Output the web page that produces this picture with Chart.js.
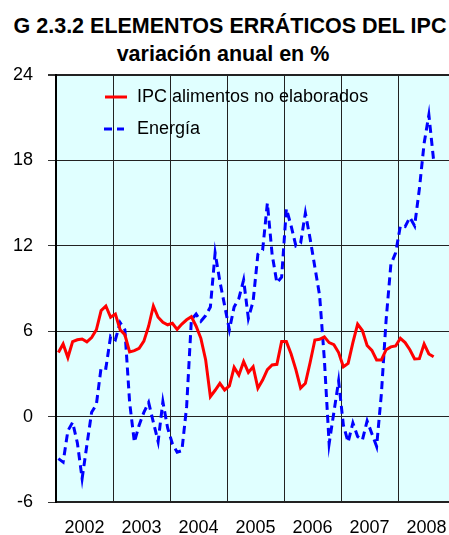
<!DOCTYPE html>
<html>
<head>
<meta charset="utf-8">
<script src="https://cdn.jsdelivr.net/npm/chart.js@4/dist/chart.umd.min.js"></script>
<style>
  body { margin: 0; width: 449px; height: 535px; overflow: hidden; background: #fff; position: relative; }
  .title { position: absolute; left: 0; font: bold 21.5px "Liberation Sans", Arial, sans-serif; line-height: 22px; text-align: center; color: #000; white-space: nowrap; }
  #chart { position: absolute; left: 0; top: 0; }
</style>
</head>
<body>
<div class="title" style="top:15px;width:460px">G 2.3.2 ELEMENTOS ERRÁTICOS DEL IPC</div>
<div class="title" style="top:43px;width:446px">variación anual en %</div>
<canvas id="chart" width="470" height="535"></canvas>
<script>
// year labels on the x axis, one per 12 monthly points (Jan 2002 - Aug 2008)
const years = ['2002', '2003', '2004', '2005', '2006', '2007', '2008'];
const yTicks = [-6, 0, 6, 12, 18, 24];

// IPC alimentos no elaborados, % annual change
const food = [4.5, 5.1, 4.15, 5.27, 5.4, 5.45, 5.25, 5.55, 6.1, 7.45, 7.77, 6.98,
  7.2, 6.1, 5.75, 4.55, 4.63, 4.8, 5.3, 6.35, 7.77, 6.98, 6.63, 6.45,
  6.56, 6.13, 6.5, 6.8, 7.02, 6.35, 5.5, 4.0, 1.4, 1.85, 2.34, 1.87,
  2.15, 3.46, 2.92, 3.86, 3.1, 3.5, 2.0, 2.57, 3.3, 3.63, 3.67, 5.27,
  5.27, 4.4, 3.3, 2.0, 2.34, 3.8, 5.38, 5.43, 5.6, 5.2, 5.05, 4.5,
  3.5, 3.74, 5.2, 6.5, 6.05, 5.0, 4.65, 3.98, 3.98, 4.7, 4.9, 4.96,
  5.5, 5.2, 4.7, 4.05, 4.07, 5.1, 4.4, 4.2];

// Energía, % annual change
const energy = [-2.95, -3.2, -1.0, -0.4, -1.85, -4.35, -2.0, 0.3, 0.85, 3.45, 3.4, 5.65,
  5.4, 6.6, 6.1, 1.0, -1.8, -0.6, 0.3, 1.0, -0.4, -1.76, 1.05, -0.8,
  -1.9, -2.5, -2.4, 0.7, 6.8, 7.2, 6.7, 7.1, 7.7, 11.5, 9.5, 7.8,
  6.1, 7.7, 8.3, 9.6, 6.9, 8.1, 11.4, 11.7, 15.0, 11.4, 9.4, 9.8,
  14.6, 13.4, 12.0, 12.2, 14.3, 12.5, 10.5, 8.5, 4.0, -1.9, 0.3, 2.5,
  -0.6, -1.8, -0.45, -1.4, -1.65, -0.3, -1.2, -2.1, 1.6, 6.8, 10.7, 11.5,
  13.4, 13.35, 14.0, 13.4, 16.0, 19.2, 21.2, 18.0];

const FONT = '"Liberation Sans", Arial, sans-serif';

// each monthly point sits in the middle of its month
const toPoints = (arr) => arr.map((v, i) => ({ x: i + 0.5, y: v }));

const plotBackground = {
  id: 'plotBackground',
  beforeDraw(chart) {
    const { ctx, chartArea: a } = chart;
    ctx.save();
    ctx.fillStyle = '#e0ffff';
    ctx.fillRect(a.left, a.top, a.right - a.left, a.bottom - a.top);
    ctx.restore();
  }
};

// legend drawn inside the plot, top left
const innerLegend = {
  id: 'innerLegend',
  afterDraw(chart) {
    const ctx = chart.ctx;
    const items = [
      { text: 'IPC alimentos no elaborados', color: '#ff0000', dash: [], y: 97, x0: 105, x1: 127 },
      { text: 'Energía', color: '#0000ff', dash: [8, 5], y: 129, x0: 104, x1: 124 }
    ];
    ctx.save();
    items.forEach(it => {
      ctx.strokeStyle = it.color;
      ctx.lineWidth = 3;
      ctx.setLineDash(it.dash);
      ctx.beginPath();
      ctx.moveTo(it.x0, it.y);
      ctx.lineTo(it.x1, it.y);
      ctx.stroke();
      ctx.setLineDash([]);
      ctx.fillStyle = '#000';
      ctx.font = '18px ' + FONT;
      ctx.textBaseline = 'middle';
      ctx.fillText(it.text, 137, it.y);
    });
    ctx.restore();
  }
};

new Chart(document.getElementById('chart'), {
  type: 'line',
  data: {
    datasets: [{
      label: 'IPC alimentos no elaborados',
      data: toPoints(food),
      borderColor: '#ff0000',
      borderWidth: 3,
      pointRadius: 0,
      tension: 0
    }, {
      label: 'Energía',
      data: toPoints(energy),
      borderColor: '#0000ff',
      borderWidth: 3,
      borderDash: [8, 5],
      pointRadius: 0,
      tension: 0
    }]
  },
  options: {
    responsive: false,
    animation: false,
    layout: { padding: { top: 75, right: 15, left: 0, bottom: 0 } },
    plugins: {
      legend: { display: false },
      title: { display: false },
      tooltip: { enabled: false }
    },
    scales: {
      x: {
        type: 'linear',
        min: 0,
        max: years.length * 12,
        afterBuildTicks: (scale) => {
          const t = [];
          for (let v = 0; v <= years.length * 12; v += 6) t.push({ value: v });
          scale.ticks = t;
        },
        afterFit: (scale) => { scale.height = 33; },
        ticks: {
          autoSkip: false,
          maxRotation: 0,
          padding: 15,
          color: '#000',
          font: { family: FONT, size: 18 },
          callback: (v) => (v % 12 === 6 ? years[(v - 6) / 12] : '')
        },
        grid: {
          drawTicks: false,
          color: (c) => (c.tick && c.tick.value % 12 === 0 ? '#222' : 'rgba(0,0,0,0)'),
          lineWidth: 1
        },
        border: { display: true, color: '#222', width: 2 }
      },
      y: {
        min: -6,
        max: 24,
        afterBuildTicks: (scale) => { scale.ticks = yTicks.map(v => ({ value: v })); },
        afterFit: (scale) => { scale.width = 56; },
        ticks: {
          padding: 15,
          color: '#000',
          font: { family: FONT, size: 18 }
        },
        grid: {
          color: '#222',
          lineWidth: (c) => (c.tick && c.tick.value === 24 ? 2 : 1),
          tickLength: 8,
          tickColor: '#333'
        },
        border: { display: true, color: '#000', width: 2 }
      }
    }
  },
  plugins: [plotBackground, innerLegend]
});
</script>
</body>
</html>
